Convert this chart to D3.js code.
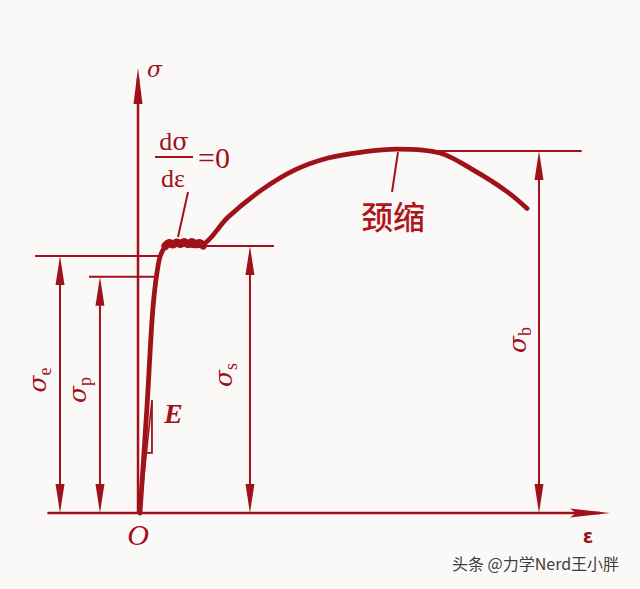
<!DOCTYPE html>
<html><head><meta charset="utf-8">
<script src="https://cdn.jsdelivr.net/npm/d3@7"></script>
<style>html,body{margin:0;padding:0;background:#fbf9f8;}svg{display:block;}</style>
</head><body>
<script>
// ---- data (strain ε in arbitrary %, stress σ in MPa-like units) ----
const curveEps = [0.21,0.95,1.59,2.01,2.33,2.65,3.07,4.6,6.78,9.53,13.14,16.63,20.13,23.73,27.44,31.99,35.49,39.09,41.21];
const curveSig = [0,107,208,243,259,266,271,272,271,299,327,347,359,365,368,364,347,325,308];
const plateauEps = [2.9,3.3,3.7,4.1,4.5,4.9,5.3,5.7,6.1,6.5,6.9];
const plateauSig = [270,273,271.5,273.5,272,274,272,274,272,273,270.5];
const levelNames = ["e","p","s","b"];
const levelValues = [260, 239, 270, 366];
const levelDimEps = [-8.26, -4.03, 11.86, 42.48];
const levelLineFrom = [-10.9, -5.19, 6.9, 31.7];
const levelLineTo = [2.33, 2.12, 14.4, 47.0];
const axisEps = [-9.6, 50];
const axisSig = [0, 450];
const tangentEps = [0.21, 1.48];
const tangentSig = [0, 114];
const stepEps = [0.85, 1.48, 1.48];
const stepSig = [60.7, 60.7, 114];

const W = 640, H = 589, C = "#a0121a";
const x = d3.scaleLinear().domain([0, 50]).range([138, 610]);
const y = d3.scaleLinear().domain([0, 450]).range([513, 68]);

const svg = d3.select("body").append("svg").attr("width", W).attr("height", H);
svg.append("rect").attr("width", W).attr("height", H).attr("fill", "#fbf9f8");

function arrow(px, py, dir, len, w) {
  let pts;
  if (dir === "up") pts = [[px, py], [px - w/2, py + len], [px + w/2, py + len]];
  else if (dir === "down") pts = [[px, py], [px - w/2, py - len], [px + w/2, py - len]];
  else pts = [[px, py], [px - len, py - w/2], [px - len*0.85, py], [px - len, py + w/2]];
  svg.append("polygon").attr("points", pts.map(p => p.join(",")).join(" ")).attr("fill", C);
}
function line(x1, y1, x2, y2, sw) {
  svg.append("line").attr("x1", x1).attr("y1", y1).attr("x2", x2).attr("y2", y2)
    .attr("stroke", C).attr("stroke-width", sw);
}

// axes
line(x(axisEps[0]), y(0), x(axisEps[1]) - 10, y(0), 2.5);
arrow(x(axisEps[1]), y(0), "right", 40, 9);
line(x(0), y(0), x(0), y(axisSig[1]) + 10, 2.5);
arrow(x(0), y(axisSig[1]), "up", 36, 9);

const sigFont = "DejaVu Serif, serif";
// reference levels & dimension arrows
levelNames.forEach((n, i) => {
  const v = levelValues[i];
  line(x(levelLineFrom[i]), y(v), x(levelLineTo[i]), y(v), 2);
  const dx = x(levelDimEps[i]);
  line(dx, y(v) + 10, dx, y(0) - 10, 2);
  arrow(dx, y(v), "up", 29, 9);
  arrow(dx, y(0), "down", 29, 9);
  const offs = {e: 14, p: 14, s: 18, b: 13}[n];
  const cy = {e: 380, p: 390, s: 375, b: 340}[n];
  const t = svg.append("text").attr("transform", `translate(${dx - offs},${cy}) rotate(-90)`)
    .attr("text-anchor", "middle").attr("fill", C);
  t.append("tspan").attr("font-family", sigFont).attr("font-style", "italic").attr("font-size", 25).text("σ");
  t.append("tspan").attr("font-family", "Liberation Serif, serif").attr("font-size", 18).attr("dy", 5).text(n);
});

// E slope triangle
line(x(tangentEps[0]), y(tangentSig[0]), x(tangentEps[1]), y(tangentSig[1]), 1.6);
svg.append("polyline").attr("points", stepEps.map((e, i) => x(e) + "," + y(stepSig[i])).join(" "))
  .attr("fill", "none").attr("stroke", C).attr("stroke-width", 1.8);

// main curve
const curvePts = curveEps.map((e, i) => [x(e), y(curveSig[i])]);
svg.append("path").attr("d", d3.line().curve(d3.curveCatmullRom.alpha(0.5))(curvePts))
  .attr("fill", "none").attr("stroke", C).attr("stroke-width", 4.8).attr("stroke-linecap", "round");
const platPts = plateauEps.map((e, i) => [x(e), y(plateauSig[i])]);
svg.append("path").attr("d", d3.line().curve(d3.curveCatmullRom)(platPts))
  .attr("fill", "none").attr("stroke", C).attr("stroke-width", 8).attr("stroke-linecap", "round");

// leader lines
line(x(5.30), y(324.6), x(4.24), y(279.1), 2);
line(x(27.54), y(365), x(26.91), y(324.6), 2);

// labels
const serif = "Liberation Serif, serif";
svg.append("text").attr("x", 147).attr("y", 77).attr("fill", C).attr("font-family", sigFont)
  .attr("font-style", "italic").attr("font-size", 22).text("σ");
svg.append("text").attr("x", 588).attr("y", 543).attr("fill", C).attr("font-family", "DejaVu Sans, sans-serif")
  .attr("font-weight", "bold").attr("text-anchor", "middle").attr("font-size", 19).text("ε");
svg.append("text").attr("x", 138).attr("y", 545).attr("fill", C).attr("font-family", serif)
  .attr("font-style", "italic").attr("text-anchor", "middle").attr("font-size", 30).text("O");
svg.append("text").attr("x", 164).attr("y", 423).attr("fill", C).attr("font-family", serif)
  .attr("font-style", "italic").attr("font-weight", "bold").attr("font-size", 28).text("E");
// dσ/dε = 0
const frac = svg.append("text").attr("x", 174).attr("y", 150).attr("fill", C)
  .attr("text-anchor", "middle").attr("font-size", 26);
frac.append("tspan").attr("font-family", serif).text("d");
frac.append("tspan").attr("font-family", sigFont).attr("font-size", 24).text("σ");
line(155, 157, 193, 157, 2);
svg.append("text").attr("x", 173).attr("y", 187).attr("fill", C).attr("font-family", serif)
  .attr("text-anchor", "middle").attr("font-size", 26).text("dε");
svg.append("text").attr("x", 198).attr("y", 168).attr("fill", C).attr("font-family", serif)
  .attr("font-size", 30).text("=0");
// 颈缩
svg.append("text").attr("x", 393).attr("y", 229).attr("fill", "#b0141c").attr("font-family", "Noto Sans CJK SC")
  .attr("text-anchor", "middle").attr("font-weight", 500).attr("font-size", 32).text("颈缩");
// watermark
svg.append("text").attr("x", 452).attr("y", 570).attr("fill", "#3c3c3c").attr("font-family", "Noto Sans CJK SC")
  .attr("font-size", 16).attr("stroke", "#ffffff").attr("stroke-width", 0.6).attr("paint-order", "stroke")
  .text("头条 @力学Nerd王小胖");
</script>
</body></html>
